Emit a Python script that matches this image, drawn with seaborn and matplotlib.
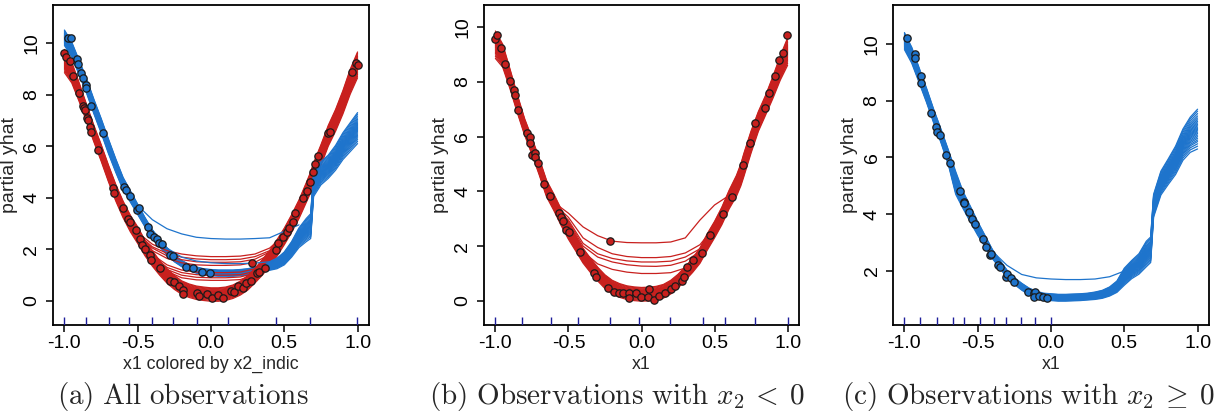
import numpy as np
import pandas as pd
import matplotlib
matplotlib.use("Agg")
import matplotlib.pyplot as plt
import seaborn as sns

# ---------------- data ----------------
x_grid = [-1.00, -0.95, -0.90, -0.85, -0.80, -0.75, -0.70, -0.65, -0.60, -0.55,
          -0.50, -0.45, -0.40, -0.35, -0.30, -0.25, -0.20, -0.15, -0.10, -0.05,
          0.00, 0.05, 0.10, 0.15, 0.20, 0.25, 0.30, 0.35, 0.40, 0.45,
          0.50, 0.55, 0.60, 0.65, 0.68, 0.70, 0.75, 0.80, 0.85, 0.90, 0.95, 1.00]

# panel (a): all observations, red = x2 < 0, blue = x2 >= 0
a_red_center = [9.30, 8.85, 8.10, 7.30, 6.50, 5.75, 4.95, 4.20, 3.55, 3.00,
                2.55, 2.05, 1.65, 1.28, 0.97, 0.72, 0.52, 0.40, 0.32, 0.28,
                0.25, 0.25, 0.28, 0.36, 0.50, 0.70, 0.98, 1.30, 1.65, 2.05,
                2.50, 3.00, 3.55, 4.20, 4.60, 4.95, 5.65, 6.40, 7.00, 7.70, 8.50, 9.15]
a_red_spread = [0.45, 0.40, 0.36, 0.33, 0.32, 0.32, 0.32, 0.32, 0.32, 0.32,
                0.32, 0.30, 0.30, 0.28, 0.28, 0.27, 0.26, 0.26, 0.26, 0.26,
                0.26, 0.26, 0.26, 0.26, 0.27, 0.28, 0.28, 0.30, 0.30, 0.32,
                0.32, 0.34, 0.36, 0.38, 0.40, 0.40, 0.40, 0.40, 0.42, 0.45, 0.48, 0.50]
a_blue_center = [10.20, 9.75, 9.05, 8.35, 7.55, 6.80, 6.00, 5.25, 4.55, 4.05,
                 3.55, 3.05, 2.60, 2.25, 1.92, 1.65, 1.45, 1.30, 1.20, 1.13,
                 1.10, 1.08, 1.08, 1.08, 1.10, 1.13, 1.18, 1.25, 1.35, 1.45,
                 1.65, 2.00, 2.45, 2.75, 2.90, 4.50, 4.95, 5.20, 5.55, 6.00, 6.35, 6.70]
a_blue_spread = [0.30, 0.28, 0.28, 0.28, 0.28, 0.28, 0.28, 0.26, 0.24, 0.22,
                 0.20, 0.18, 0.16, 0.15, 0.14, 0.13, 0.12, 0.12, 0.12, 0.12,
                 0.12, 0.12, 0.12, 0.12, 0.12, 0.12, 0.13, 0.14, 0.16, 0.20,
                 0.25, 0.30, 0.38, 0.45, 0.48, 0.45, 0.45, 0.45, 0.48, 0.52, 0.56, 0.60]

# panel (b): observations with x2 < 0
b_center = [9.35, 8.95, 8.10, 7.20, 6.35, 5.65, 4.90, 4.10, 3.60, 3.05,
            2.55, 2.10, 1.65, 1.30, 0.98, 0.70, 0.50, 0.38, 0.30, 0.26,
            0.24, 0.25, 0.28, 0.35, 0.50, 0.72, 1.00, 1.30, 1.65, 2.15,
            2.60, 3.10, 3.70, 4.20, 4.60, 4.95, 5.80, 6.55, 7.15, 7.80, 8.50, 9.10]
b_spread = [0.50, 0.42, 0.36, 0.33, 0.30, 0.30, 0.30, 0.30, 0.30, 0.30,
            0.30, 0.28, 0.27, 0.26, 0.25, 0.25, 0.25, 0.25, 0.25, 0.25,
            0.25, 0.25, 0.25, 0.25, 0.25, 0.25, 0.25, 0.26, 0.28, 0.30,
            0.30, 0.32, 0.34, 0.38, 0.40, 0.42, 0.40, 0.36, 0.36, 0.40, 0.44, 0.50]

# panel (c): observations with x2 >= 0
c_center = [10.10, 9.60, 8.90, 8.20, 7.45, 6.75, 6.00, 5.10, 4.50, 4.00,
            3.50, 3.05, 2.60, 2.25, 1.90, 1.65, 1.45, 1.28, 1.17, 1.10,
            1.08, 1.06, 1.06, 1.07, 1.08, 1.10, 1.13, 1.18, 1.28, 1.45,
            1.80, 2.05, 2.25, 2.60, 2.75, 4.30, 5.10, 5.50, 5.90, 6.45, 6.80, 7.00]
c_spread = [0.30, 0.28, 0.26, 0.25, 0.24, 0.24, 0.26, 0.40, 0.30, 0.28,
            0.24, 0.20, 0.16, 0.14, 0.13, 0.12, 0.12, 0.12, 0.12, 0.12,
            0.12, 0.12, 0.12, 0.12, 0.12, 0.12, 0.13, 0.14, 0.16, 0.20,
            0.30, 0.32, 0.36, 0.45, 0.45, 0.40, 0.42, 0.45, 0.50, 0.55, 0.62, 0.70]

# relative position of each ICE curve inside its band
curve_offsets = [-1.0, -0.86, -0.74, -0.63, -0.55, -0.46, -0.38, -0.30, -0.22, -0.15,
                 -0.08, -0.02, 0.04, 0.10, 0.17, 0.24, 0.31, 0.39, 0.47, 0.56,
                 0.66, 0.78, 0.90, 1.0]

# curves that level off in the middle
x_mid = [-0.6, -0.5, -0.4, -0.3, -0.2, -0.1, 0.0, 0.1, 0.2, 0.3, 0.4, 0.5, 0.6]
a_red_flat = [
    [3.60, 2.65, 2.20, 1.95, 1.82, 1.75, 1.72, 1.72, 1.74, 1.82, 2.05, 2.55, 3.60],
    [3.60, 2.60, 2.10, 1.85, 1.70, 1.63, 1.60, 1.60, 1.62, 1.72, 1.95, 2.50, 3.60],
    [3.55, 2.60, 2.05, 1.75, 1.60, 1.52, 1.50, 1.50, 1.52, 1.62, 1.90, 2.50, 3.60],
    [3.55, 2.55, 1.95, 1.65, 1.48, 1.40, 1.38, 1.38, 1.40, 1.50, 1.80, 2.50, 3.60],
    [3.55, 2.55, 1.80, 1.40, 1.20, 1.12, 1.10, 1.10, 1.12, 1.25, 1.70, 2.50, 3.60],
    [3.55, 2.50, 1.75, 1.30, 1.10, 1.02, 1.00, 1.00, 1.02, 1.15, 1.68, 2.50, 3.60],
    [3.55, 2.50, 1.70, 1.22, 1.00, 0.92, 0.90, 0.90, 0.93, 1.08, 1.66, 2.50, 3.60],
    [3.55, 2.50, 1.68, 1.15, 0.90, 0.82, 0.80, 0.80, 0.83, 1.03, 1.65, 2.50, 3.60],
]
a_blue_flat = [
    [4.50, 3.70, 3.15, 2.80, 2.60, 2.47, 2.42, 2.40, 2.40, 2.42, 2.45, 2.70, 2.95],
    [4.50, 3.55, 2.65, 2.05, 1.70, 1.55, 1.48, 1.45, 1.45, 1.47, 1.52, 1.80, 2.60],
]
b_flat = [
    [3.60, 3.20, 2.70, 2.38, 2.18, 2.13, 2.12, 2.12, 2.15, 2.30, 2.95, 3.50, 3.85],
    [3.55, 3.05, 2.30, 1.95, 1.72, 1.62, 1.58, 1.58, 1.62, 1.75, 2.05, 2.70, 3.70],
    [3.50, 2.95, 2.10, 1.72, 1.55, 1.46, 1.42, 1.42, 1.45, 1.60, 1.90, 2.65, 3.70],
    [3.50, 2.90, 2.00, 1.60, 1.42, 1.32, 1.27, 1.26, 1.30, 1.45, 1.80, 2.60, 3.70],
    [3.45, 2.75, 1.80, 1.35, 1.15, 1.05, 1.00, 1.00, 1.03, 1.20, 1.70, 2.60, 3.70],
]
c_flat = [
    [4.50, 3.50, 2.70, 2.20, 1.88, 1.76, 1.72, 1.70, 1.70, 1.72, 1.80, 2.00, 2.30],
]

# observed points (x1, yhat)
a_red_px = [-1.0, -0.99, -0.962, -0.94, -0.901, -0.872, -0.865, -0.86, -0.844, -0.838,
            -0.826, -0.82, -0.773, -0.667, -0.66, -0.603, -0.564, -0.555, -0.512, -0.485,
            -0.47, -0.45, -0.416, -0.41, -0.348, -0.28, -0.25, -0.216, -0.193, -0.193,
            -0.098, -0.08, -0.029, 0.005, 0.05, 0.084, 0.137, 0.16, 0.186, 0.221,
            0.239, 0.271, 0.278, 0.312, 0.33, 0.369, 0.444, 0.46, 0.494, 0.517,
            0.53, 0.558, 0.573, 0.626, 0.653, 0.676, 0.699, 0.71, 0.733, 0.801,
            0.81, 0.96, 0.99, 1.0]
a_red_py = [9.60, 9.47, 9.30, 8.70, 8.07, 7.56, 7.47, 7.40, 7.08, 7.00,
            6.76, 6.56, 5.85, 4.37, 4.20, 3.59, 3.18, 3.07, 2.75, 2.39,
            2.17, 2.00, 1.78, 1.59, 1.27, 0.78, 0.72, 0.58, 0.43, 0.27,
            0.30, 0.20, 0.28, 0.13, 0.24, 0.10, 0.39, 0.36, 0.57, 0.49,
            0.70, 0.79, 1.48, 1.07, 1.13, 1.28, 1.98, 2.24, 2.47, 2.69,
            2.82, 3.07, 3.40, 3.98, 4.28, 4.62, 5.01, 5.30, 5.62, 6.50,
            6.53, 8.89, 9.21, 9.15]
a_blue_px = [-0.974, -0.956, -0.913, -0.91, -0.887, -0.875, -0.853, -0.853, -0.821, -0.735,
             -0.594, -0.58, -0.553, -0.503, -0.49, -0.432, -0.415, -0.389, -0.37, -0.353,
             -0.337, -0.28, -0.257, -0.171, -0.12, -0.063, -0.007]
a_blue_py = [10.20, 10.20, 9.37, 9.20, 8.85, 8.66, 8.37, 8.24, 7.56, 6.50,
             4.43, 4.30, 4.07, 3.53, 3.60, 2.88, 2.58, 2.49, 2.39, 2.26,
             2.20, 1.78, 1.73, 1.33, 1.27, 1.14, 1.10]
b_px = [-1.0, -0.986, -0.959, -0.931, -0.897, -0.874, -0.867, -0.845, -0.783, -0.765,
        -0.76, -0.747, -0.73, -0.73, -0.708, -0.667, -0.623, -0.564, -0.554, -0.54,
        -0.52, -0.495, -0.421, -0.325, -0.314, -0.227, -0.216, -0.19, -0.156, -0.126,
        -0.087, -0.087, -0.041, -0.002, 0.051, 0.044, 0.085, 0.12, 0.16, 0.2,
        0.23, 0.275, 0.29, 0.31, 0.355, 0.413, 0.47, 0.557, 0.62, 0.698,
        0.744, 0.778, 0.842, 0.87, 0.916, 0.938, 0.97, 0.996]
b_py = [9.55, 9.72, 9.23, 8.63, 8.02, 7.70, 7.52, 6.97, 6.12, 5.97,
        5.78, 5.33, 5.39, 5.27, 5.03, 4.26, 3.82, 3.20, 3.06, 2.93,
        2.60, 2.50, 1.78, 1.02, 0.89, 0.46, 2.19, 0.34, 0.27, 0.27,
        0.30, 0.12, 0.27, 0.13, 0.43, 0.13, 0.05, 0.19, 0.28, 0.43,
        0.55, 0.74, 0.86, 1.25, 1.50, 1.74, 2.40, 3.16, 3.80, 4.96,
        5.75, 6.48, 7.03, 7.58, 8.20, 8.80, 9.04, 9.70]
c_px = [-0.98, -0.93, -0.925, -0.89, -0.888, -0.817, -0.783, -0.778, -0.76, -0.715,
        -0.687, -0.624, -0.596, -0.593, -0.56, -0.54, -0.516, -0.464, -0.441, -0.419,
        -0.41, -0.362, -0.346, -0.309, -0.302, -0.27, -0.25, -0.156, -0.118, -0.112,
        -0.118, -0.081, -0.053, -0.027]
c_py = [10.20, 9.64, 9.50, 8.87, 8.63, 7.56, 7.06, 6.88, 6.79, 6.07,
        5.80, 4.82, 4.44, 4.38, 4.07, 3.84, 3.66, 3.14, 2.86, 2.56,
        2.60, 2.21, 2.15, 1.80, 1.88, 1.74, 1.62, 1.27, 1.21, 1.27,
        1.09, 1.13, 1.10, 1.06]

# deciles of x1 (rug)
a_rug = [-1.0, -0.853, -0.693, -0.561, -0.403, -0.258, -0.098, 0.116, 0.444, 0.676, 0.999]
b_rug = [-1.0, -0.817, -0.62, -0.432, -0.217, -0.016, 0.192, 0.423, 0.574, 0.78, 1.0]
c_rug = [-1.0, -0.891, -0.781, -0.669, -0.596, -0.487, -0.389, -0.304, -0.204, -0.108, -0.003]

x_ticks = [-1.0, -0.5, 0.0, 0.5, 1.0]
x_ticklabels = ["-1.0", "-0.5", "0.0", "0.5", "1.0"]
captions = [r"$\mathrm{(a)\ All\ observations}$",
            r"$\mathrm{(b)\ Observations\ with\ }x_2\:<\:0$",
            r"$\mathrm{(c)\ Observations\ with\ }x_2\:\geq\:0$"]

# ---------------- style ----------------
RED = "#C8201E"
BLUE = "#1E74CC"
RUG = "#1E1E9A"

sns.set_style("ticks")
plt.rcParams["font.family"] = ["Liberation Sans", "DejaVu Sans"]
plt.rcParams["axes.unicode_minus"] = False
plt.rcParams["mathtext.fontset"] = "cm"


def band_frame(center, spread, offsets):
    c = np.asarray(center)
    s = np.asarray(spread)
    rows = []
    for k, o in enumerate(offsets):
        rows.append(pd.DataFrame({"x": x_grid, "y": c + o * s, "curve": k}))
    return pd.concat(rows, ignore_index=True)


def flat_frame(curves):
    rows = []
    for k, ys in enumerate(curves):
        rows.append(pd.DataFrame({"x": x_mid, "y": ys, "curve": k}))
    return pd.concat(rows, ignore_index=True)


def draw_lines(ax, df, color, lw=0.9):
    sns.lineplot(data=df, x="x", y="y", units="curve", estimator=None,
                 color=color, lw=lw, ax=ax, legend=False, sort=False)


def draw_points(ax, xs, ys, color):
    sns.scatterplot(x=xs, y=ys, color=color, edgecolor="#1a1a1a", linewidth=0.9,
                    s=28, ax=ax, legend=False, zorder=5)


fig = plt.figure(figsize=(12.22, 4.2), dpi=100)
ax_a = fig.add_axes([53 / 1222, 95 / 420, 316 / 1222, 320 / 420])
ax_b = fig.add_axes([484 / 1222, 95 / 420, 315 / 1222, 320 / 420])
ax_c = fig.add_axes([893 / 1222, 95 / 420, 316 / 1222, 320 / 420])

# panel a: interleave red and blue curves
red_a = band_frame(a_red_center, a_red_spread, curve_offsets)
blue_a = band_frame(a_blue_center, a_blue_spread, curve_offsets)
n = len(curve_offsets)
for start in range(0, n, 4):
    ids = list(range(start, min(start + 4, n)))
    draw_lines(ax_a, blue_a[blue_a.curve.isin(ids)], BLUE)
    draw_lines(ax_a, red_a[red_a.curve.isin(ids)], RED)
draw_lines(ax_a, flat_frame(a_red_flat), RED)
draw_lines(ax_a, flat_frame(a_blue_flat), BLUE)
draw_points(ax_a, a_red_px, a_red_py, RED)
draw_points(ax_a, a_blue_px, a_blue_py, BLUE)

# panel b
draw_lines(ax_b, band_frame(b_center, b_spread, curve_offsets), RED)
draw_lines(ax_b, flat_frame(b_flat), RED)
draw_points(ax_b, b_px, b_py, RED)

# panel c
draw_lines(ax_c, band_frame(c_center, c_spread, curve_offsets), BLUE)
draw_lines(ax_c, flat_frame(c_flat), BLUE)
draw_points(ax_c, c_px, c_py, BLUE)

settings = [
    (ax_a, a_rug, (-0.93, 11.47), [0, 2, 4, 6, 8, 10], "x1 colored by x2_indic"),
    (ax_b, b_rug, (-0.88, 10.8), [0, 2, 4, 6, 8, 10], "x1"),
    (ax_c, c_rug, (0.1, 11.37), [2, 4, 6, 8, 10], "x1"),
]
for ax, rug, ylim, yt, xlabel in settings:
    sns.rugplot(x=rug, ax=ax, height=0.026, color=RUG, lw=2.0, zorder=6)
    ax.set_xlim(-1.078, 1.078)
    ax.set_ylim(*ylim)
    ax.set_xticks(x_ticks)
    ax.set_xticklabels(x_ticklabels)
    ax.set_yticks(yt)
    ax.set_yticklabels([str(v) for v in yt])
    ax.tick_params(direction="out", length=5, width=1.1, labelsize=14, colors="black")
    ax.tick_params(axis="x", pad=2)
    ax.tick_params(axis="y", pad=4)
    for lab in ax.get_yticklabels():
        lab.set_rotation(90)
        lab.set_va("center")
    for sp in ax.spines.values():
        sp.set_visible(True)
        sp.set_linewidth(1.3)
        sp.set_color("black")
    ax.set_xlabel(xlabel, fontsize=12.8, labelpad=3)
    ax.set_ylabel("partial yhat", fontsize=14, labelpad=4)

caption_x = [183 / 1222, 617 / 1222, 1028 / 1222]
for cx, txt in zip(caption_x, captions):
    fig.text(cx, 0.055, txt, ha="center", va="center", fontsize=21)

fig.savefig("out.png", dpi=100)
